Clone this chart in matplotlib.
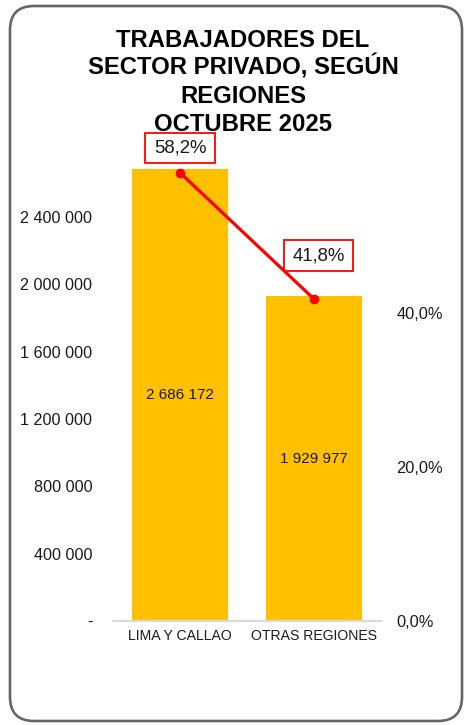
import matplotlib
matplotlib.use("Agg")
import matplotlib.pyplot as plt
from matplotlib.patches import FancyBboxPatch
from matplotlib.path import Path
from matplotlib.transforms import IdentityTransform

plt.rcParams['font.family'] = ['Liberation Sans', 'DejaVu Sans']

categories = ["LIMA Y CALLAO", "OTRAS REGIONES"]
workers = [2686172, 1929977]
shares = [58.2, 41.8]
left_ticks = [0, 400000, 800000, 1200000, 1600000, 2000000, 2400000]
left_labels = ["-", "400 000", "800 000", "1 200 000", "1 600 000", "2 000 000", "2 400 000"]
right_ticks = [0, 20, 40]
right_labels = ["0,0%", "20,0%", "40,0%"]
title_lines = ["TRABAJADORES DEL", "SECTOR PRIVADO, SEGÚN", "REGIONES", "OCTUBRE 2025"]

W, H = 465, 725
fig = plt.figure(figsize=(W / 100, H / 100), dpi=100)

# frame
frame = FancyBboxPatch((10, 4), 452, 715, boxstyle="round,pad=0,rounding_size=24",
                       transform=IdentityTransform(), facecolor="none",
                       edgecolor="#666666", linewidth=1.9, zorder=-1)
fig.patches.append(frame)


def label_box(x0, y0, width, height, mutation_size):
    px = 0.46 * mutation_size
    py = 0.36 * mutation_size
    x0, y0 = x0 - px, y0 - py
    x1, y1 = x0 + width + 2 * px, y0 + height + 2 * py
    return Path([(x0, y0), (x1, y0), (x1, y1), (x0, y1), (x0, y0)], closed=True)


ax = fig.add_axes([113 / W, 1 - 621 / H, (381 - 113) / W, (621 - 155) / H])
ax.set_facecolor("none")
x = list(range(len(categories)))
ax.bar(x, workers, width=0.71, color="#FFC000", zorder=2)
ax.set_xlim(-0.5, 1.5)
ax.set_ylim(0, 2768500)
ax.set_yticks(left_ticks)
ax.set_yticklabels(left_labels, fontsize=11.6, color="#1a1a1a")
ax.set_xticks(x)
ax.set_xticklabels(categories, fontsize=10.1, color="#1a1a1a")
ax.tick_params(axis="y", length=0, pad=15)
ax.tick_params(axis="x", length=0, pad=6)
for s in ["left", "right", "top"]:
    ax.spines[s].set_visible(False)
ax.spines["bottom"].set_color("#D9D9D9")
ax.spines["bottom"].set_linewidth(1.5)

for xi, v in zip(x, workers):
    lbl = f"{v:,}".replace(",", " ")
    ax.text(xi, v / 2, lbl, ha="center", va="center", fontsize=11, color="#1a1a1a", zorder=3)

ax2 = ax.twinx()
ax2.set_ylim(0, 60.5)
ax2.set_yticks(right_ticks)
ax2.set_yticklabels(right_labels, fontsize=11.8, color="#1a1a1a")
ax2.tick_params(axis="y", length=0, pad=11)
for s in ["left", "right", "top", "bottom"]:
    ax2.spines[s].set_visible(False)
ax2.plot(x, shares, color="#FF0000", linewidth=2.3, marker="o", markersize=6, zorder=4)

offsets = [(0, 18), (3.2, 31.3)]
for xi, v, off in zip(x, shares, offsets):
    ax2.annotate(f"{v:.1f}%".replace(".", ","), (xi, v), xytext=off,
                 textcoords="offset points", ha="center", va="center",
                 fontsize=13.4, color="#1a1a1a",
                 bbox=dict(boxstyle=label_box, facecolor="white",
                           edgecolor="#FF0000", linewidth=1.3))

baselines = [47, 75, 103, 131]
for line, b in zip(title_lines, baselines):
    fig.text(243 / W, 1 - b / H, line, ha="center", va="baseline",
             fontsize=17.2, fontweight="bold", color="black")

fig.savefig("out.png", dpi=100)
